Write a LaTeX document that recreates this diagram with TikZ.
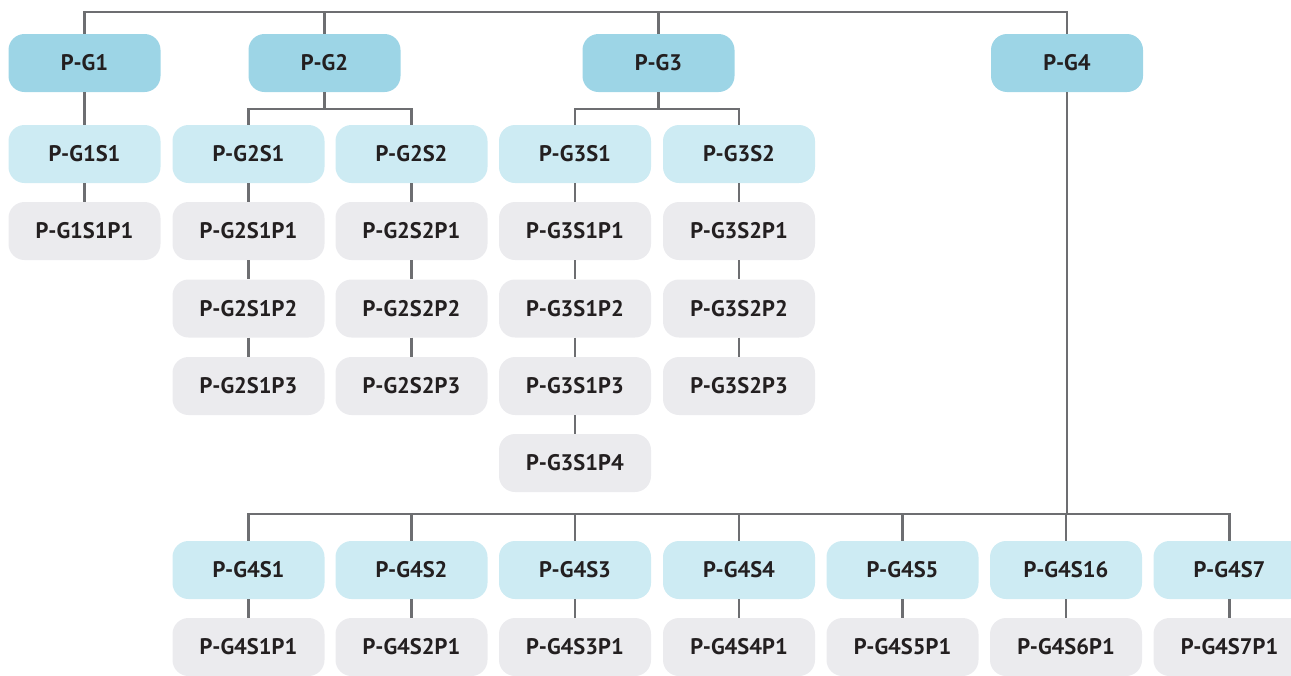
\documentclass[tikz,border=0pt]{standalone}
\usepackage{fontspec}
\setmainfont{PT Sans}
\usepackage{tikz}

\definecolor{grpblue}{RGB}{157,213,230}
\definecolor{subblue}{RGB}{205,235,243}
\definecolor{partgray}{RGB}{235,235,238}
\definecolor{linegray}{RGB}{109,110,113}
\definecolor{txtdark}{RGB}{35,31,32}

\begin{document}
\begin{tikzpicture}[x=1pt,y=-1pt,
    box/.style={rounded corners=16pt, minimum width=152pt, minimum height=58pt,
      inner sep=0pt, text=txtdark, font=\fontsize{22.5}{26}\selectfont\bfseries},
    grp/.style={box, fill=grpblue},
    sub/.style={box, fill=subblue},
    part/.style={box, fill=partgray},
    wire/.style={draw=linegray, line width=2.4pt}]
      \useasboundingbox (0,0) rectangle (1291,675);
      \clip (0,0) rectangle (1291,675);
      \node [grp] (g1) at (84.5,63) {P-G1};
      \node [grp] (g2) at (324.5,63) {P-G2};
      \node [grp] (g3) at (658.5,63) {P-G3};
      \node [grp] (g4) at (1067,63) {P-G4};
      \node [sub] (g1s1) at (84.5,154) {P-G1S1};
      \node [sub] (g2s1) at (248.5,154) {P-G2S1};
      \node [sub] (g2s2) at (411.5,154) {P-G2S2};
      \node [sub] (g3s1) at (575,154) {P-G3S1};
      \node [sub] (g3s2) at (739,154) {P-G3S2};
      \node [part] (g1s1p1) at (84.5,231) {P-G1S1P1};
      \node [part] (g2s1p1) at (248.5,231) {P-G2S1P1};
      \node [part] (g2s1p2) at (248.5,308.5) {P-G2S1P2};
      \node [part] (g2s1p3) at (248.5,386) {P-G2S1P3};
      \node [part] (g2s2p1) at (411.5,231) {P-G2S2P1};
      \node [part] (g2s2p2) at (411.5,308.5) {P-G2S2P2};
      \node [part] (g2s2p3) at (411.5,386) {P-G2S2P3};
      \node [part] (g3s1p1) at (575,231) {P-G3S1P1};
      \node [part] (g3s1p2) at (575,308.5) {P-G3S1P2};
      \node [part] (g3s1p3) at (575,386) {P-G3S1P3};
      \node [part] (g3s1p4) at (575,463) {P-G3S1P4};
      \node [part] (g3s2p1) at (739,231) {P-G3S2P1};
      \node [part] (g3s2p2) at (739,308.5) {P-G3S2P2};
      \node [part] (g3s2p3) at (739,386) {P-G3S2P3};
      \node [sub] (g4s1) at (248.5,570) {P-G4S1};
      \node [sub] (g4s2) at (411.5,570) {P-G4S2};
      \node [sub] (g4s3) at (575,570) {P-G4S3};
      \node [sub] (g4s4) at (739,570) {P-G4S4};
      \node [sub] (g4s5) at (902.5,570) {P-G4S5};
      \node [sub] (g4s6) at (1066,570) {P-G4S16};
      \node [sub] (g4s7) at (1229.5,570) {P-G4S7};
      \node [part] (g4s1p1) at (248.5,647) {P-G4S1P1};
      \node [part] (g4s2p1) at (411.5,647) {P-G4S2P1};
      \node [part] (g4s3p1) at (575,647) {P-G4S3P1};
      \node [part] (g4s4p1) at (739,647) {P-G4S4P1};
      \node [part] (g4s5p1) at (902.5,647) {P-G4S5P1};
      \node [part] (g4s6p1) at (1066,647) {P-G4S6P1};
      \node [part] (g4s7p1) at (1229.5,647) {P-G4S7P1};
      % Top bus.
      \coordinate (top) at (0,12);
      \draw [wire] (g1.north) |- (g4.north |- top) -- (g4.north);
      \draw [wire] (g2.north) -- (g2.north |- top);
      \draw [wire] (g3.north) -- (g3.north |- top);
      % Group 1.
      \draw [wire] (g1) -- (g1s1);
      \draw [wire] (g1s1) -- (g1s1p1);
      % Group 2.
      \draw [wire] (g2.south) -- ++(0,17) coordinate (b2);
      \draw [wire] (g2s1.north) |- (b2) -| (g2s2.north);
      \draw [wire] (g2s1) -- (g2s1p1) (g2s1p1) -- (g2s1p2) (g2s1p2) -- (g2s1p3);
      \draw [wire] (g2s2) -- (g2s2p1) (g2s2p1) -- (g2s2p2) (g2s2p2) -- (g2s2p3);
      % Group 3.
      \draw [wire] (g3.south) -- ++(0,17) coordinate (b3);
      \draw [wire] (g3s1.north) |- (b3) -| (g3s2.north);
      \draw [wire] (g3s1) -- (g3s1p1) (g3s1p1) -- (g3s1p2) (g3s1p2) -- (g3s1p3) (g3s1p3) -- (g3s1p4);
      \draw [wire] (g3s2) -- (g3s2p1) (g3s2p1) -- (g3s2p2) (g3s2p2) -- (g3s2p3);
      % Group 4.
      \draw [wire] (g4s1.north) -- ++(0,-27) coordinate (b4) -| (g4s7.north);
      \draw [wire] (g4.south) -- (g4.south |- b4);
      \draw [wire] (g4s2.north) -- (g4s2.north |- b4);
      \draw [wire] (g4s3.north) -- (g4s3.north |- b4);
      \draw [wire] (g4s4.north) -- (g4s4.north |- b4);
      \draw [wire] (g4s5.north) -- (g4s5.north |- b4);
      \draw [wire] (g4s6.north) -- (g4s6.north |- b4);
      \draw [wire] (g4s1) -- (g4s1p1);
      \draw [wire] (g4s2) -- (g4s2p1);
      \draw [wire] (g4s3) -- (g4s3p1);
      \draw [wire] (g4s4) -- (g4s4p1);
      \draw [wire] (g4s5) -- (g4s5p1);
      \draw [wire] (g4s6) -- (g4s6p1);
      \draw [wire] (g4s7) -- (g4s7p1);
\end{tikzpicture}
\end{document}
